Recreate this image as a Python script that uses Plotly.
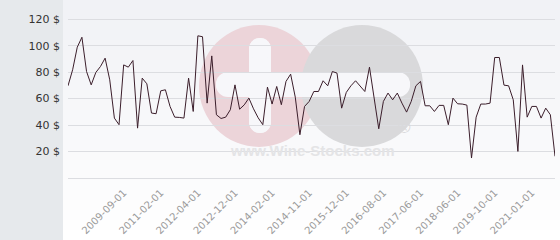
import plotly.graph_objects as go

# ---- data ----
prices = [69.7, 81.8, 98.9, 106.4, 80.5, 70.4, 79.8, 84.3, 90.6, 74.2,
          45.3, 40.3, 85.5, 83.8, 88.8, 37.7, 75.5, 71.2, 49.1, 48.6,
          65.9, 66.7, 54.1, 46.0, 45.8, 45.3, 75.5, 50.3, 107.5, 106.8,
          56.6, 92.3, 47.8, 45.0, 46.0, 51.6, 70.4, 52.0, 55.3, 60.4,
          52.3, 45.5, 40.3, 68.7, 55.9, 69.2, 55.4, 73.0, 78.5, 61.1,
          32.7, 54.1, 57.9, 65.4, 65.4, 73.5, 69.7, 80.5, 79.3, 52.8,
          64.7, 69.7, 73.5, 69.2, 65.4, 83.8, 60.0, 37.2, 57.9, 64.2,
          59.1, 64.2, 56.6, 49.8, 57.9, 69.7, 73.0, 54.6, 54.6, 50.3,
          54.9, 54.9, 40.3, 60.4, 56.1, 55.9, 55.1, 15.1, 46.0, 55.9,
          55.9, 56.6, 91.1, 91.1, 70.2, 69.7, 59.1, 20.1, 85.5, 46.0,
          54.1, 54.1, 45.3, 52.8, 47.8, 16.4]

tick_labels = ["2009-09-01", "2011-02-01", "2012-04-01", "2012-12-01",
               "2014-02-01", "2014-11-01", "2015-12-01", "2016-08-01",
               "2017-06-01", "2018-06-01", "2019-10-01", "2021-01-01"]
tick_positions = [12, 20, 28, 36, 44, 52, 60, 68, 76, 84, 92, 100]

y_ticks = [20, 40, 60, 80, 100, 120]


# ---- build category dates (anchored on the visible tick labels) ----
def to_m(s):
    y, m, _ = s.split("-")
    return int(y) * 12 + int(m) - 1


def from_m(n):
    return f"{n // 12:04d}-{n % 12 + 1:02d}-01"


anchors = list(zip(tick_positions, [to_m(s) for s in tick_labels]))
dates = []
for i in range(len(prices)):
    if i <= anchors[0][0]:
        dates.append(from_m(anchors[0][1] - 2 * (anchors[0][0] - i)))
    elif i >= anchors[-1][0]:
        dates.append(from_m(anchors[-1][1] + 2 * (i - anchors[-1][0])))
    else:
        for (p0, m0), (p1, m1) in zip(anchors[:-1], anchors[1:]):
            if p0 <= i < p1:
                dates.append(from_m(m0 + (m1 - m0) * (i - p0) // (p1 - p0)))
                break

# ---- figure geometry ----
W, H = 560, 240
L, R, T, B = 68, 5, 10, 62
PW, PH = W - L - R, H - T - B


def px(x):
    return (x - L) / PW


def py(y):
    return (H - B - y) / PH


shapes = []
# panel gradient background
n = 24
for k in range(n):
    f = k / (n - 1)
    r = int(241 + (255 - 241) * f)
    g = int(242 + (255 - 242) * f)
    b = int(246 + (255 - 246) * f)
    y0 = k * H / n
    y1 = (k + 1) * H / n + 0.5
    shapes.append(dict(type="rect", xref="paper", yref="paper", layer="below",
                       x0=px(63), x1=px(W + 2), y0=py(y1), y1=py(y0),
                       fillcolor=f"rgb({r},{g},{b})", line=dict(width=0)))

# watermark logo
shapes.append(dict(type="circle", xref="paper", yref="paper", layer="below",
                   x0=px(199), x1=px(319), y0=py(147), y1=py(25),
                   fillcolor="#ecd4d9", line=dict(width=0)))
shapes.append(dict(type="circle", xref="paper", yref="paper", layer="below",
                   x0=px(301), x1=px(423), y0=py(147), y1=py(25),
                   fillcolor="#d9d9db", line=dict(width=0)))


def rrect(x0, x1, y0, y1, rad, color):
    out = []
    out.append(dict(type="rect", xref="paper", yref="paper", layer="below",
                    x0=px(x0 + rad), x1=px(x1 - rad), y0=py(y1), y1=py(y0),
                    fillcolor=color, line=dict(width=0)))
    out.append(dict(type="rect", xref="paper", yref="paper", layer="below",
                    x0=px(x0), x1=px(x1), y0=py(y1 - rad), y1=py(y0 + rad),
                    fillcolor=color, line=dict(width=0)))
    for cx, cy in [(x0 + rad, y0 + rad), (x1 - rad, y0 + rad),
                   (x0 + rad, y1 - rad), (x1 - rad, y1 - rad)]:
        out.append(dict(type="circle", xref="paper", yref="paper", layer="below",
                        x0=px(cx - rad), x1=px(cx + rad), y0=py(cy + rad), y1=py(cy - rad),
                        fillcolor=color, line=dict(width=0)))
    return out


shapes += rrect(249, 271, 38, 133, 11, "#f7f7fa")
shapes += rrect(216, 410, 72, 97, 12, "#f7f7fa")

annotations = [
    dict(text="<b>www.Wine-Stocks.com</b>", xref="paper", yref="paper",
         x=px(312), y=py(161), showarrow=False,
         font=dict(family="Liberation Sans, Arial", size=15, color="#e4e4e6")),
    dict(text="®", xref="paper", yref="paper", x=px(413), y=py(139),
         showarrow=False,
         font=dict(family="Liberation Sans, Arial", size=17, color="#d9d9db")),
]

fig = go.Figure()
fig.add_trace(go.Scatter(x=dates, y=prices, mode="lines",
                         line=dict(color="#3b1e2b", width=1),
                         hoverinfo="skip", showlegend=False))

fig.update_layout(
    width=W, height=H,
    margin=dict(l=L, r=R, t=T, b=B, pad=0),
    paper_bgcolor="#e6e9ec",
    plot_bgcolor="rgba(0,0,0,0)",
    shapes=shapes,
    annotations=annotations,
    xaxis=dict(type="category", range=[0, len(prices) - 1],
               showgrid=False, zeroline=False, showline=False,
               tickmode="array", automargin=False,
               tickvals=[dates[p] for p in tick_positions],
               ticktext=tick_labels,
               tickangle=-45, ticks="", ticklabelstandoff=6,
               tickfont=dict(family="DejaVu Sans", size=10, color="#9a9a9a")),
    yaxis=dict(range=[0, 127], tickmode="array", tickvals=y_ticks,
               ticktext=[f"{v} $" for v in y_ticks], automargin=False,
               showgrid=True, gridcolor="#dcdde1", gridwidth=1,
               zeroline=True, zerolinecolor="#dcdde1", zerolinewidth=1,
               showline=False, ticks="", ticklabelstandoff=7,
               tickfont=dict(family="DejaVu Sans", size=11, color="#333333")),
)

fig.write_html("out.html")
